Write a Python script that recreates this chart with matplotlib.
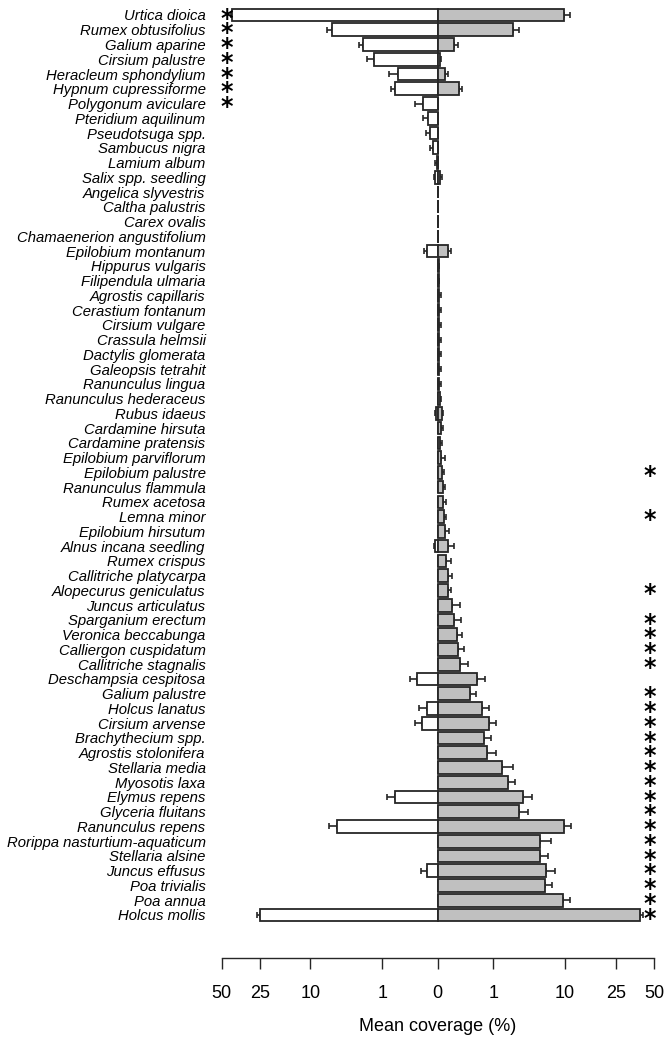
import numpy as np
import matplotlib
matplotlib.use("Agg")
import matplotlib.pyplot as plt
from matplotlib.transforms import blended_transform_factory

plt.rcParams['font.family'] = ['Liberation Sans', 'DejaVu Sans']

species = [
    "Urtica dioica", "Rumex obtusifolius", "Galium aparine", "Cirsium palustre",
    "Heracleum sphondylium", "Hypnum cupressiforme", "Polygonum aviculare",
    "Pteridium aquilinum", "Pseudotsuga spp.", "Sambucus nigra", "Lamium album",
    "Salix spp. seedling", "Angelica slyvestris", "Caltha palustris", "Carex ovalis",
    "Chamaenerion angustifolium", "Epilobium montanum", "Hippurus vulgaris",
    "Filipendula ulmaria", "Agrostis capillaris", "Cerastium fontanum",
    "Cirsium vulgare", "Crassula helmsii", "Dactylis glomerata", "Galeopsis tetrahit",
    "Ranunculus lingua", "Ranunculus hederaceus", "Rubus idaeus", "Cardamine hirsuta",
    "Cardamine pratensis", "Epilobium parviflorum", "Epilobium palustre",
    "Ranunculus flammula", "Rumex acetosa", "Lemna minor", "Epilobium hirsutum",
    "Alnus incana seedling", "Rumex crispus", "Callitriche platycarpa",
    "Alopecurus geniculatus", "Juncus articulatus", "Sparganium erectum",
    "Veronica beccabunga", "Calliergon cuspidatum", "Callitriche stagnalis",
    "Deschampsia cespitosa", "Galium palustre", "Holcus lanatus", "Cirsium arvense",
    "Brachythecium spp.", "Agrostis stolonifera", "Stellaria media", "Myosotis laxa",
    "Elymus repens", "Glyceria fluitans", "Ranunculus repens",
    "Rorippa nasturtium-aquaticum", "Stellaria alsine", "Juncus effusus",
    "Poa trivialis", "Poa annua", "Holcus mollis",
]

# white bars (left side): mean coverage (%) and standard error
white_mean = [41.7, 5.95, 2.25, 1.46, 0.406, 0.470, 0.0241, 0.0072, 0.0048, 0.0008,
              0.00002, 0.00018, 0, 0, 0, 0, 0.0103, 0, 0, 0,
              0, 0, 0, 0, 0, 0, 0, 0.00006, 0, 0,
              0, 0, 0, 0, 0, 0, 0.00014, 0, 0, 0,
              0, 0, 0, 0, 0, 0.0643, 0, 0.0114, 0.0328, 0,
              0, 0, 0, 0.482, 0, 5.24, 0, 0, 0.0114, 0,
              0, 25.0]
white_se = [1.3, 0.77, 0.41, 0.48, 0.305, 0.143, 0.059, 0.017, 0.0092, 0.004,
            0.0003, 0.0005, 0, 0, 0, 0, 0.0114, 0, 0, 0,
            0, 0, 0, 0, 0, 0, 0, 0.00008, 0, 0,
            0, 0, 0, 0, 0, 0, 0.0005, 0, 0, 0,
            0, 0, 0, 0, 0, 0.085, 0, 0.038, 0.050, 0,
            0, 0, 0, 0.282, 0, 1.26, 0, 0, 0.026, 0,
            0, 1.6]

# grey bars (right side): mean coverage (%) and standard error
grey_mean = [9.84, 2.32, 0.0353, 0.0001, 0.0035, 0.0666, 0, 0, 0, 0,
             0, 0.00018, 0, 0, 0, 0, 0.0103, 0.00001, 0.00001, 0.00004,
             0.00004, 0.00004, 0.00004, 0.00004, 0.00004, 0.00004, 0.00014, 0.0008, 0.0003, 0.00022,
             0.00054, 0.00105, 0.00124, 0.00146, 0.0021, 0.0038, 0.0092, 0.0058, 0.0085, 0.0085,
             0.0217, 0.0331, 0.0529, 0.0609, 0.079, 0.381, 0.217, 0.523, 0.819, 0.613,
             0.728, 1.49, 1.88, 3.31, 2.87, 9.74, 5.43, 5.43, 6.36, 6.22,
             9.56, 39.9]
grey_se = [1.23, 0.51, 0.024, 0.0002, 0.0057, 0.034, 0, 0, 0, 0,
           0, 0.0005, 0, 0, 0, 0, 0.0085, 0.00004, 0.00004, 0.00026,
           0.00026, 0.00026, 0.00026, 0.00026, 0.00026, 0.00026, 0.0004, 0.0004, 0.0009, 0.0008,
           0.003, 0.001, 0.0023, 0.0031, 0.0037, 0.0082, 0.022, 0.012, 0.0145, 0.012,
           0.054, 0.053, 0.052, 0.064, 0.10, 0.246, 0.132, 0.259, 0.338, 0.264,
           0.429, 0.79, 0.63, 1.06, 0.97, 1.53, 1.80, 1.29, 1.66, 1.17,
           1.51, 1.5]

left_star = ["Urtica dioica", "Rumex obtusifolius", "Galium aparine", "Cirsium palustre",
             "Heracleum sphondylium", "Hypnum cupressiforme", "Polygonum aviculare"]
right_star = ["Epilobium palustre", "Lemna minor", "Alopecurus geniculatus",
              "Sparganium erectum", "Veronica beccabunga", "Calliergon cuspidatum",
              "Callitriche stagnalis", "Galium palustre", "Holcus lanatus",
              "Cirsium arvense", "Brachythecium spp.", "Agrostis stolonifera",
              "Stellaria media", "Myosotis laxa", "Elymus repens", "Glyceria fluitans",
              "Ranunculus repens", "Rorippa nasturtium-aquaticum", "Stellaria alsine",
              "Juncus effusus", "Poa trivialis", "Poa annua", "Holcus mollis"]

tick_vals = [-50, -25, -10, -1, 0, 1, 10, 25, 50]

# ---- axis scale (power-like, matching the printed tick spacing) ----
EXP = 0.36
U_KN = np.array([0, 1, 10 ** EXP, 25 ** EXP, 50 ** EXP, 100 ** EXP])
P_KN = np.array([0, 1, 2.29, 3.20, 3.89,
                 3.89 + (100 ** EXP - 50 ** EXP) * 0.69 / (50 ** EXP - 25 ** EXP)])


def fwd(x):
    x = np.asarray(x, dtype=float)
    return np.sign(x) * np.interp(np.abs(x) ** EXP, U_KN, P_KN)


def inv(y):
    y = np.asarray(y, dtype=float)
    return np.sign(y) * np.interp(np.abs(y), P_KN, U_KN) ** (1 / EXP)


W, H = 666, 1040
fig = plt.figure(figsize=(W / 100, H / 100), dpi=100)
ax_left_px, ax_right_px = 221.5, 654.0
ax_top_px, ax_bot_px = 5.0, 958.0
ax = fig.add_axes([ax_left_px / W, 1 - ax_bot_px / H,
                   (ax_right_px - ax_left_px) / W, (ax_bot_px - ax_top_px) / H])
ax.set_xscale('function', functions=(fwd, inv))

n = len(species)
y = np.arange(n)
wm = np.array(white_mean)
ws = np.array(white_se)
gm = np.array(grey_mean)
gs = np.array(grey_se)

edge = '#262626'
bh = 0.86
ax.barh(y, -wm, left=0, height=bh, color='white', edgecolor=edge, linewidth=1.3, zorder=3)
ax.barh(y, gm, left=0, height=bh, color='#c0c0c0', edgecolor=edge, linewidth=1.3, zorder=3)

mw = ws > 0
ax.errorbar(-wm[mw], y[mw], xerr=[ws[mw], np.zeros(mw.sum())], fmt='none',
            ecolor=edge, elinewidth=1.2, capsize=2.2, capthick=1.2, zorder=2)
mg = gs > 0
ax.errorbar(gm[mg], y[mg], xerr=[np.zeros(mg.sum()), gs[mg]], fmt='none',
            ecolor=edge, elinewidth=1.2, capsize=2.2, capthick=1.2, zorder=2)

row_px = 14.754
ax.set_ylim((ax_bot_px - 15) / row_px, -(15 - ax_top_px) / row_px)
ax.set_xlim(-50, 50)

ax.set_yticks(y)
ax.set_yticklabels(species, fontstyle='italic', fontsize=10.7)
ax.tick_params(axis='y', length=0, pad=11.5)

ax.set_xticks(tick_vals)
ax.set_xticklabels([str(abs(v)) for v in tick_vals], fontsize=13)
ax.tick_params(axis='x', length=7.7, width=1.0, pad=11.5, color=edge)
ax.set_xlabel('Mean coverage (%)', fontsize=13, labelpad=12)

for s in ['left', 'right', 'top']:
    ax.spines[s].set_visible(False)
ax.spines['bottom'].set_linewidth(1.0)
ax.spines['bottom'].set_color(edge)

tr = blended_transform_factory(ax.transAxes, ax.transData)
star_kw = dict(transform=tr, ha='center', va='center', fontsize=17,
               fontweight='bold', color='black', family='DejaVu Sans', clip_on=False)
for name in left_star:
    i = species.index(name)
    ax.text(0.0115, i + 0.25, '*', **star_kw)
for name in right_star:
    i = species.index(name)
    ax.text(0.9908, i + 0.25, '*', **star_kw)

fig.savefig('out.png', dpi=100)
